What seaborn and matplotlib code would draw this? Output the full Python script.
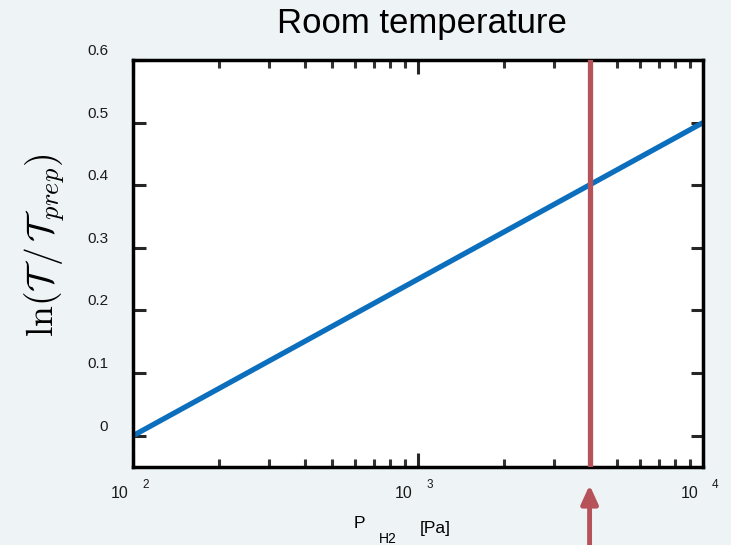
import matplotlib
matplotlib.use("Agg")
from matplotlib import pyplot as plt
from matplotlib import transforms
import seaborn as sns
import pandas as pd

# data
pressure = [1e2, 1e4]
ln_ratio = [0.0, 0.5]
marker_pressure = 4000
y_ticks = [0, 0.1, 0.2, 0.3, 0.4, 0.5, 0.6]
y_tick_labels = ["0", "0.1", "0.2", "0.3", "0.4", "0.5", "0.6"]
x_decades = [1e2, 1e3, 1e4]
x_exponents = ["2", "3", "4"]

sns.set_style("white")
plt.rcParams['font.family'] = ['Liberation Sans', 'DejaVu Sans']
plt.rcParams['mathtext.fontset'] = 'cm'

fig = plt.figure(figsize=(7.31, 5.45), dpi=100)
fig.patch.set_facecolor('#eef3f6')
ax = fig.add_axes([133/731, 1 - 467/545, 570/731, 407/545])
ax.set_facecolor('white')

df = pd.DataFrame({"p": pressure, "y": ln_ratio})
sns.lineplot(data=df, x="p", y="y", ax=ax, color='#0b6fbd', linewidth=3.8, solid_capstyle='butt')
ax.axvline(marker_pressure, color='#b5525a', linewidth=3.8, zorder=3)

ax.set_xscale('log')
ax.set_xlim(1e2, 1e4)
ax.set_ylim(-0.05, 0.6)
ax.set_xlabel("")
ax.set_ylabel("")

for s in ax.spines.values():
    s.set_linewidth(2.5)
    s.set_color('black')
    s.set_visible(True)

ax.set_yticks(y_ticks)
ax.tick_params(axis='y', which='major', direction='in', length=9, width=2.2, left=True, right=True, labelleft=False)
ax.tick_params(axis='x', which='major', direction='in', length=10, width=2.2, bottom=True, top=True, labelbottom=False)
ax.tick_params(axis='x', which='minor', direction='in', length=6, width=2.2, bottom=True, top=True, color='#333333')

# y tick labels, shifted up-left as in the original export
ylab_tr = transforms.offset_copy(ax.get_yaxis_transform(), fig=fig, x=-25, y=9, units='dots')
for v, t in zip(y_ticks, y_tick_labels):
    ax.text(0, v, t, transform=ylab_tr, ha='right', va='center', fontsize=11, color='#1a1a1a')

# x tick labels "10 ^n"
xbase_tr = transforms.offset_copy(ax.get_xaxis_transform(), fig=fig, x=-5, y=-26, units='dots')
xsup_tr = transforms.offset_copy(ax.get_xaxis_transform(), fig=fig, x=9, y=-18, units='dots')
for v, e in zip(x_decades, x_exponents):
    ax.text(v, 0, "10", transform=xbase_tr, ha='right', va='center', fontsize=11.5, color='#1a1a1a')
    ax.text(v, 0, e, transform=xsup_tr, ha='left', va='center', fontsize=8.5, color='#1a1a1a')

# axis labels
fig.text(45/731, 1 - 245/545, r"$\ln(\mathcal{T}\,/\,\mathcal{T}_{prep})$", rotation=90,
         ha='center', va='center', fontsize=27, color='black')
fig.text(359/731, 1 - 524/545, "P", ha='center', va='center', fontsize=12.5, color='black')
fig.text(388/731, 1 - 539/545, "H2", ha='center', va='center', fontsize=10, color='black')
fig.text(435/731, 1 - 528/545, "[Pa]", ha='center', va='center', fontsize=12.5, color='black')

fig.text(422/731, 1 - 23/545, "Room temperature", ha='center', va='center', fontsize=25, color='black')

# arrow under the axis pointing at the marked pressure
tip_tr = transforms.offset_copy(ax.get_xaxis_transform(), fig=fig, y=-18, units='dots')
ax.annotate("", xy=(marker_pressure, 0), xycoords=tip_tr,
            xytext=(0, -65), textcoords='offset pixels',
            arrowprops=dict(arrowstyle='-|>,head_length=1.1,head_width=0.5', color='#b5525a', lw=3.5,
                            shrinkA=0, shrinkB=0),
            annotation_clip=False)

fig.savefig("out.png", dpi=100, facecolor=fig.get_facecolor())
